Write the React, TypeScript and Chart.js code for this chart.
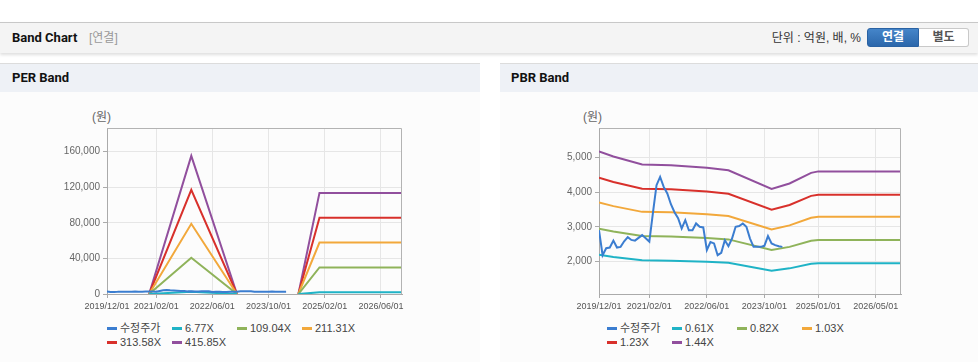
import React, { useEffect, useRef } from 'react';
import { Chart, registerables } from 'chart.js';

Chart.register(...registerables);

// ---------- data ----------
// months counted from 2019/12 (0) to 2026/12 (84)
const priceLabel = '수정주가';
const adjPrice = [
  2900, 2180, 2380, 2400, 2600, 2400, 2420, 2580, 2700, 2620, 2600, 2680, 2760, 2670, 2570,
  3400, 4200, 4440, 4150, 3960, 3650, 3420, 3250, 2950, 3190, 2900, 2900, 3095, 3000, 2980,
  2330, 2560, 2520, 2180, 2250, 2610, 2440, 2660, 3000, 3020, 3095, 3000, 2660, 2420, 2420,
  2420, 2450, 2730, 2520, 2470, 2440, 2420,
];

const perLabels = ['6.77X', '109.04X', '211.31X', '313.58X', '415.85X'];
const perMonths = [12, 24, 37, 45, 54.5, 60.5, 84];
const per677 = [0, 2525, 0, null, 0, 1848, 1848];
const per10904 = [0, 40670, 0, null, 0, 29770, 29770];
const per21131 = [0, 78820, 0, null, 0, 57690, 57690];
const per31358 = [0, 116970, 0, null, 0, 85610, 85610];
const per41585 = [0, 155110, 0, null, 0, 113530, 113530];

const pbrLabels = ['0.61X', '0.82X', '1.03X', '1.23X', '1.44X'];
const pbrMonths = [0, 4, 12, 20, 30, 36, 48, 53, 59, 61, 84];
const pbr061 = [2190, 2129, 2031, 2023, 1992, 1961, 1732, 1800, 1930, 1948, 1948];
const pbr082 = [2944, 2862, 2731, 2720, 2677, 2636, 2329, 2420, 2594, 2618, 2618];
const pbr103 = [3698, 3595, 3430, 3417, 3363, 3311, 2925, 3040, 3259, 3289, 3289];
const pbr123 = [4416, 4293, 4096, 4080, 4016, 3954, 3493, 3630, 3892, 3927, 3927];
const pbr144 = [5170, 5026, 4795, 4776, 4702, 4630, 4090, 4249, 4556, 4598, 4598];

const perXTicks = [0, 14, 30, 46, 62, 78];
const perXTickLabels = ['2019/12/01', '2021/02/01', '2022/06/01', '2023/10/01', '2025/02/01', '2026/06/01'];
const pbrXTicks = [0, 14, 30, 46, 61, 77];
const pbrXTickLabels = ['2019/12/01', '2021/02/01', '2022/06/01', '2023/10/01', '2025/01/01', '2026/05/01'];
const perYTicks = [0, 40000, 80000, 120000, 160000];
const pbrYTicks = [2000, 3000, 4000, 5000];

const seriesColors = ['#3b7dd0', '#1fb3c6', '#8fb35a', '#f2a83b', '#d8302b', '#914f9d'];

const AXIS_FONT = '"Liberation Sans", Arial, sans-serif';
const UI_FONT = '"Liberation Sans", "Noto Sans CJK KR", sans-serif';
const HEAD_FONT = 'Roboto, "Noto Sans CJK KR", sans-serif';

type Pt = { x: number; y: number | null };
const toPts = (xs: number[], ys: (number | null)[]): Pt[] => xs.map((x, i) => ({ x, y: ys[i] }));
const pricePts: Pt[] = adjPrice.map((v, i) => ({ x: i, y: v }));

function makeDatasets(xs: number[], bands: (number | null)[][], labels: string[]) {
  const ds: any[] = [
    { label: priceLabel, data: pricePts, borderColor: seriesColors[0], backgroundColor: seriesColors[0] },
  ];
  bands.forEach((b, i) => {
    ds.push({ label: labels[i], data: toPts(xs, b), borderColor: seriesColors[i + 1], backgroundColor: seriesColors[i + 1] });
  });
  return ds;
}

type BandProps = {
  left: number; top: number; width: number; height: number;
  yWidth: number; padRight: number; padTop: number; xHeight: number;
  xTicks: number[]; xTickLabels: string[]; yTicks: number[]; yMin: number; yMax: number;
  datasets: any[];
};

function BandChart(p: BandProps) {
  const ref = useRef<HTMLCanvasElement>(null);
  useEffect(() => {
    const framePlugin = {
      id: 'frame',
      afterDraw(chart: any) {
        const a = chart.chartArea;
        const c = chart.ctx;
        c.save();
        c.strokeStyle = '#b3b3b3';
        c.lineWidth = 1;
        c.beginPath();
        const t = Math.round(a.top) + 0.5;
        const r = Math.round(a.right) - 0.5;
        c.moveTo(a.left, t);
        c.lineTo(r, t);
        c.lineTo(r, a.bottom);
        c.stroke();
        c.restore();
      },
    };
    const chart = new Chart(ref.current as HTMLCanvasElement, {
      type: 'line',
      data: { datasets: p.datasets },
      options: {
        animation: false,
        responsive: false,
        maintainAspectRatio: false,
        layout: { padding: { left: 0, right: p.padRight, top: p.padTop, bottom: 0 } },
        plugins: { legend: { display: false }, tooltip: { enabled: false } },
        elements: { point: { radius: 0 }, line: { tension: 0, borderWidth: 2 } },
        scales: {
          x: {
            type: 'linear',
            min: 0,
            max: 84,
            afterBuildTicks: (s: any) => { s.ticks = p.xTicks.map((v) => ({ value: v })); },
            afterFit: (s: any) => { s.height = p.xHeight; },
            ticks: {
              autoSkip: false,
              maxRotation: 0,
              padding: 3,
              color: '#555',
              font: { family: AXIS_FONT, size: 9 },
              callback: (v: any) => {
                const i = p.xTicks.indexOf(Number(v));
                return i >= 0 ? p.xTickLabels[i] : '';
              },
            },
            grid: { color: '#e6e6e6', tickColor: '#aaaaaa', tickLength: 4 },
            border: { color: '#aaaaaa' },
          },
          y: {
            type: 'linear',
            min: p.yMin,
            max: p.yMax,
            afterBuildTicks: (s: any) => { s.ticks = p.yTicks.map((v) => ({ value: v })); },
            afterFit: (s: any) => { s.width = p.yWidth; },
            ticks: {
              padding: 3,
              color: '#666',
              font: { family: AXIS_FONT, size: 10 },
              callback: (v: any) => Number(v).toLocaleString('en-US'),
            },
            grid: { color: '#e6e6e6', tickColor: '#aaaaaa', tickLength: 4 },
            border: { color: '#aaaaaa' },
          },
        },
      },
      plugins: [framePlugin],
    } as any);
    return () => chart.destroy();
  }, []);
  return (
    <canvas
      ref={ref}
      width={p.width}
      height={p.height}
      style={{ position: 'absolute', left: p.left, top: p.top, width: p.width, height: p.height }}
    />
  );
}

function Legend(props: { left: number; top: number; labels: string[] }) {
  const all = [priceLabel, ...props.labels];
  return (
    <div
      style={{
        position: 'absolute', left: props.left, top: props.top,
        display: 'grid', gridTemplateColumns: 'repeat(4, 65px)',
        font: `11px ${UI_FONT}`, color: '#444', lineHeight: '13.5px', whiteSpace: 'nowrap',
      }}
    >
      {all.map((l, i) => (
        <div key={l} style={{ display: 'flex', alignItems: 'center' }}>
          <span style={{ display: 'inline-block', width: 10, height: 3, background: seriesColors[i], marginRight: 3 }} />
          <span>{l}</span>
        </div>
      ))}
    </div>
  );
}

const abs = (s: React.CSSProperties): React.CSSProperties => ({ position: 'absolute', ...s });

export default function App() {
  const perData = makeDatasets(perMonths, [per677, per10904, per21131, per31358, per41585], perLabels);
  const pbrData = makeDatasets(pbrMonths, [pbr061, pbr082, pbr103, pbr123, pbr144], pbrLabels);
  return (
    <div style={abs({ left: 0, top: 0, width: 978, height: 362, background: '#fff', overflow: 'hidden' })}>
      {/* top header */}
      <div style={abs({ left: 0, top: 22, width: 978, height: 30, background: '#f4f4f4', borderTop: '1px solid #c8c8c8', boxShadow: '0 2px 3px rgba(0,0,0,0.13)' })} />
      <div style={abs({ left: 12, top: 29, font: `bold 13px ${HEAD_FONT}`, color: '#111', lineHeight: '18px' })}>Band Chart</div>
      <div style={abs({ left: 89, top: 29, font: `12px ${UI_FONT}`, color: '#999', lineHeight: '18px' })}>[연결]</div>
      <div style={abs({ right: 978 - 861, top: 29, font: `12px ${UI_FONT}`, color: '#333', lineHeight: '18px' })}>단위 : 억원, 배, %</div>
      <div style={abs({ left: 867, top: 28, width: 52, height: 19, boxSizing: 'border-box', background: 'linear-gradient(#4585c9, #2b67ab)', border: '1px solid #2a62a3', borderRadius: '3px 0 0 3px', color: '#fff', font: `bold 12px ${UI_FONT}`, textAlign: 'center', lineHeight: '17px' })}>연결</div>
      <div style={abs({ left: 919, top: 28, width: 50, height: 19, boxSizing: 'border-box', background: '#fff', border: '1px solid #c9c9c9', borderLeft: 'none', borderRadius: '0 3px 3px 0', color: '#555', font: `bold 12px ${UI_FONT}`, textAlign: 'center', lineHeight: '17px' })}>별도</div>

      {/* panels */}
      <div style={abs({ left: 0, top: 63, width: 480, height: 299, background: '#fcfcfc' })} />
      <div style={abs({ left: 0, top: 63, width: 480, height: 28, background: '#eef1f6', borderTop: '1px solid #dcdcdc' })} />
      <div style={abs({ left: 12, top: 69, font: `bold 13px ${HEAD_FONT}`, color: '#111', lineHeight: '18px' })}>PER Band</div>
      <div style={abs({ left: 500, top: 63, width: 478, height: 299, background: '#fcfcfc' })} />
      <div style={abs({ left: 500, top: 63, width: 478, height: 28, background: '#eef1f6', borderTop: '1px solid #dcdcdc' })} />
      <div style={abs({ left: 511, top: 69, font: `bold 13px ${HEAD_FONT}`, color: '#111', lineHeight: '18px' })}>PBR Band</div>

      {/* PER chart */}
      <div style={abs({ left: 92, top: 109, font: `12px ${UI_FONT}`, color: '#666', lineHeight: '16px' })}>(원)</div>
      <BandChart
        left={55} top={100} width={365} height={216}
        yWidth={52} padRight={18} padTop={28} xHeight={22}
        xTicks={perXTicks} xTickLabels={perXTickLabels}
        yTicks={perYTicks} yMin={0} yMax={186400}
        datasets={perData}
      />
      <Legend left={107} top={322} labels={perLabels} />

      {/* PBR chart */}
      <div style={abs({ left: 583, top: 109, font: `12px ${UI_FONT}`, color: '#666', lineHeight: '16px' })}>(원)</div>
      <BandChart
        left={545} top={100} width={375} height={216}
        yWidth={54} padRight={19} padTop={28} xHeight={22}
        xTicks={pbrXTicks} xTickLabels={pbrXTickLabels}
        yTicks={pbrYTicks} yMin={1060} yMax={5850}
        datasets={pbrData}
      />
      <Legend left={607} top={322} labels={pbrLabels} />
    </div>
  );
}
